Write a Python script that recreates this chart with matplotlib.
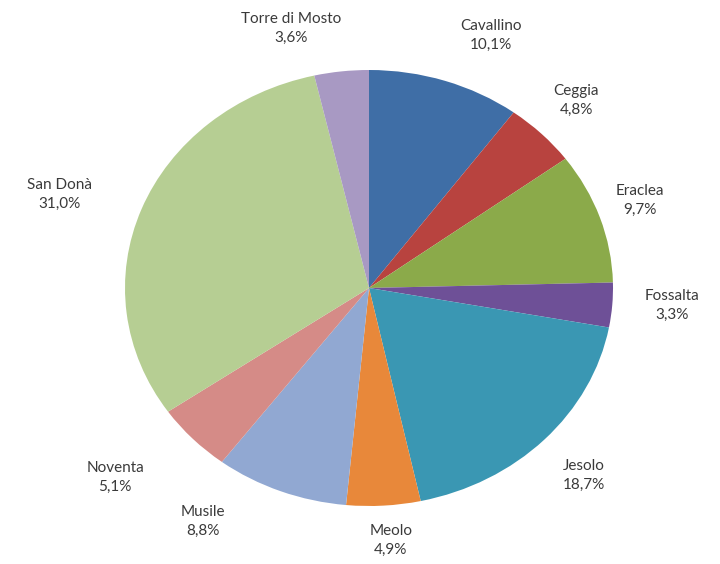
import numpy as np
import matplotlib.pyplot as plt

# comuni e quote (%)
comuni = ['Cavallino', 'Ceggia', 'Eraclea', 'Fossalta', 'Jesolo', 'Meolo',
          'Musile', 'Noventa', 'San Donà', 'Torre di Mosto']
quote = [10.1, 4.8, 9.7, 3.3, 18.7, 4.9, 8.8, 5.1, 31.0, 3.6]
colori = ['#3F6EA6', '#B8433F', '#8BAA4A', '#6E5097', '#3A97B3', '#E8883A',
          '#91A8D2', '#D58B87', '#B6CE93', '#A899C3']

# posizioni delle etichette (unità del raggio)
pos_etichette = [(0.50, 1.16), (0.85, 0.86), (1.11, 0.40), (1.24, -0.08),
                 (0.88, -0.86), (0.09, -1.16), (-0.68, -1.07), (-1.04, -0.87),
                 (-1.27, 0.43), (-0.32, 1.19)]

fig = plt.figure(figsize=(7.2, 5.64), dpi=100)
ax = fig.add_axes([125/720, 58/564, 488/720, 436/564])
ax.pie(quote, colors=colori, startangle=90, counterclock=False,
       wedgeprops=dict(linewidth=0))
ax.set_aspect('auto')
ax.set_xlim(-1, 1); ax.set_ylim(-1, 1)

for nome, q, (x, y) in zip(comuni, quote, pos_etichette):
    testo = nome + '\n' + ('%.1f%%' % q).replace('.', ',')
    ax.text(x, y, testo, ha='center', va='center', fontsize=11,
            family='Lato', color='#3a3a3a', linespacing=1.45, clip_on=False)

fig.savefig('out.png', dpi=100)
